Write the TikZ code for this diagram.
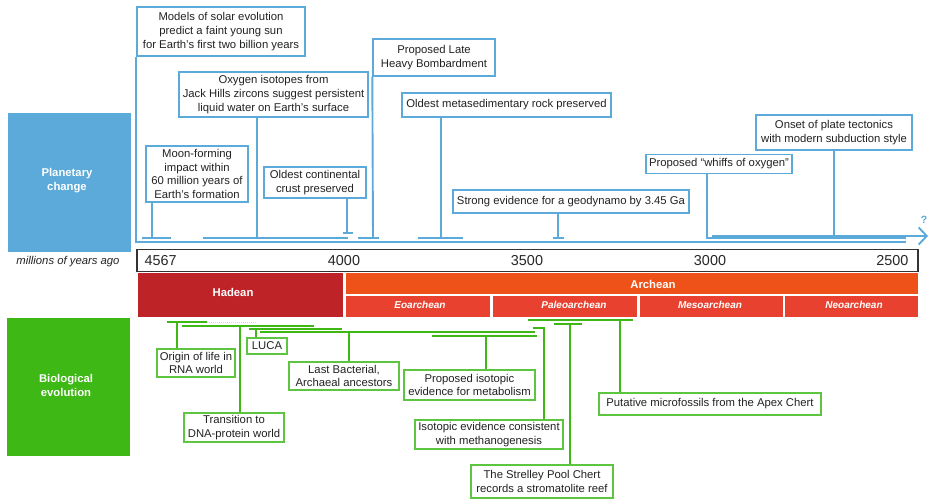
\documentclass[tikz,border=0pt]{standalone}
\usepackage{fontspec}
\setmainfont{Liberation Sans}
\usetikzlibrary{arrows.meta}
\definecolor{planBlue}{HTML}{5BAAD9}
\definecolor{bioGreen}{HTML}{3DB814}
\definecolor{boxGreen}{HTML}{5DC540}
\definecolor{hadRed}{HTML}{BE2327}
\definecolor{archOrange}{HTML}{EE5219}
\definecolor{eraRed}{HTML}{E8412F}
\definecolor{txtGray}{HTML}{222222}

\begin{document}
\begin{tikzpicture}[x=1pt,y=-1pt,
  font=\fontsize{11.3}{13.8}\selectfont, text=txtGray,
  pbox/.style={draw=planBlue, line width=1.4pt, fill=white, align=center, inner sep=1pt},
  bbox/.style={draw=boxGreen, line width=1.4pt, fill=white, align=center, inner sep=1pt},
  pline/.style={draw=planBlue, line width=1.9pt},
  bline/.style={draw=bioGreen, line width=1.9pt},
  side/.style={text=white, font=\fontsize{11.3}{14}\selectfont\bfseries, align=center},
  eonlbl/.style={text=white, font=\fontsize{11.3}{13}\selectfont\bfseries},
  eralbl/.style={text=white, font=\fontsize{10}{11}\selectfont\bfseries\itshape},
  yr/.style={font=\fontsize{14.4}{16}\selectfont, text=black!85}]
\useasboundingbox (0,0) rectangle (930,499);
% side labels
\fill[planBlue] (8,113) rectangle (131,252);
\node[side] (plan) at (67,181) {Planetary\\change};
\node[font=\fontsize{11.3}{13}\selectfont\itshape] (mya) at (68,262) {millions of years ago};
\fill[bioGreen] (7,318) rectangle (130,456);
\node[side] (bio) at (66,385.5) {Biological\\evolution};
% time axis
\draw[line width=1.5pt, black!80] (137,249.5) rectangle (918,271.5);
\node[yr, anchor=west] (y4567) at (141,261) {4567};
\node[yr] (y4000) at (344,261) {4000};
\node[yr] (y3500) at (527,261) {3500};
\node[yr] (y3000) at (710,261) {3000};
\node[yr, anchor=east] (y2500) at (912,261) {2500};
% eons and eras
\fill[hadRed] (138,273) rectangle (343,317);
\node[eonlbl] (hadean) at (233,292) {Hadean};
\fill[archOrange] (346,273) rectangle (918,294);
\node[eonlbl] (archean) at (653,284) {Archean};
\foreach \a/\b/\c/\n in {346/490/420/Eoarchean, 493/637/574/Paleoarchean,
  640/783/710/Mesoarchean, 785/918/854/Neoarchean}{
  \fill[eraRed] (\a,296) rectangle (\b,317);
  \node[eralbl] (era-\n) at (\c,305) {\n};
}
% planetary events
\node[pbox, minimum width=168pt, minimum height=49pt] (models) at (221,31.5)
  {Models of solar evolution\\predict a faint young sun\\for Earth’s first two billion years};
\node[pbox, minimum width=189pt, minimum height=45pt] (oxy) at (273.5,94.5)
  {Oxygen isotopes from\\Jack Hills zircons suggest persistent\\liquid water on Earth’s surface};
\node[pbox, minimum width=102pt, minimum height=56pt] (moon) at (197,174)
  {Moon-forming\\impact within\\60 million years of\\Earth’s formation};
\node[pbox, minimum width=102pt, minimum height=31pt] (crust) at (315,182.5)
  {Oldest continental\\crust preserved};
\node[pbox, minimum width=122pt, minimum height=37pt] (lhb) at (434,57.5)
  {Proposed Late\\Heavy Bombardment};
\node[pbox, minimum width=209pt, minimum height=24pt] (metased) at (506.5,105)
  {Oldest metasedimentary rock preserved};
\node[pbox, minimum width=236pt, minimum height=23pt] (geo) at (571,201.5)
  {Strong evidence for a geodynamo by 3.45 Ga};
\node[pbox, minimum width=146pt, minimum height=19pt] (whiffs) at (719,164)
  {Proposed “whiffs of oxygen”};
\node[pbox, minimum width=156pt, minimum height=35pt] (plate) at (834,132.5)
  {Onset of plate tectonics\\with modern subduction style};
\coordinate (pEnd) at (906,242);
\draw[pline] (models.south west) |- (pEnd);
\coordinate (moonT) at (152,238);
\draw[pline] (moon.south -| moonT) -- (moonT);
\draw[pline] ([xshift=-10pt]moonT) -- ([xshift=19pt]moonT);
\coordinate (oxyT) at (257,238);
\draw[pline] (oxy.south -| oxyT) -- (oxyT);
\draw[pline] ([xshift=-54pt]oxyT) -- ([xshift=91pt]oxyT);
\coordinate (crustT) at (347,233);
\draw[pline] (crust.south -| crustT) -- (crustT);
\draw[pline] ([xshift=-4.5pt]crustT) -- ([xshift=5.5pt]crustT);
\coordinate (lhbT) at (373,238);
\draw[pline] (lhb.south west) -- (lhbT);
\draw[pline] ([xshift=-15pt]lhbT) -- ([xshift=6pt]lhbT);
\coordinate (metT) at (441,238);
\draw[pline] (metased.south -| metT) -- (metT);
\draw[pline] ([xshift=-23pt]metT) -- ([xshift=22pt]metT);
\coordinate (geoT) at (558,238);
\draw[pline] (geo.south -| geoT) -- (geoT);
\draw[pline] ([xshift=-5pt]geoT) -- ([xshift=6pt]geoT);
\coordinate (whT) at (707,238);
\coordinate (whEnd) at (906,238);
\draw[pline] (whiffs.south -| whT) -- (whT) -- (whEnd);
\coordinate (plT) at (834,236);
\coordinate (plS) at (712,236);
\coordinate (plE) at (928,236);
\draw[pline] (plate.south) -- (plT);
\draw[pline, -{Straight Barb[length=8pt, width=17pt]}] (plS) -- (plE);
\node[text=planBlue, font=\fontsize{10.5}{11}\selectfont\bfseries] (unk) at (924,220) {?};
% biological events
\node[bbox, minimum width=78pt, minimum height=28pt] (origin) at (196,363)
  {Origin of life in\\RNA world};
\node[bbox, minimum width=100pt, minimum height=29pt] (trans) at (234,427.5)
  {Transition to\\DNA-protein world};
\node[bbox, minimum width=40pt, minimum height=16pt] (luca) at (267,346) {LUCA};
\node[bbox, minimum width=110pt, minimum height=28pt] (ancest) at (344,376)
  {Last Bacterial,\\Archaeal ancestors};
\node[bbox, minimum width=131pt, minimum height=30pt] (metab) at (469.5,385)
  {Proposed isotopic\\evidence for metabolism};
\node[bbox, minimum width=148pt, minimum height=29pt] (methano) at (489,434.5)
  {Isotopic evidence consistent\\with methanogenesis};
\node[bbox, minimum width=142pt, minimum height=33pt] (strelley) at (542,481.5)
  {The Strelley Pool Chert\\records a stromatolite reef};
\node[bbox, minimum width=222pt, minimum height=22pt] (apex) at (710,404)
  {Putative microfossils from the Apex Chert};
\coordinate (orT) at (177,322);
\draw[bline] ([xshift=-10pt]orT) -- ([xshift=30pt]orT);
\draw[planBlue!40, line width=1pt, densely dotted] ([xshift=30pt]orT) -- ([xshift=79pt]orT);
\draw[bline] (orT) -- (origin.north -| orT);
\coordinate (trT) at (240,326);
\draw[bline] ([xshift=-58pt]trT) -- ([xshift=74pt]trT);
\draw[bline] (trT) -- (trans.north -| trT);
\coordinate (luT) at (256,329);
\draw[bline] ([xshift=-7pt]luT) -- ([xshift=86pt]luT);
\draw[bline] (luT) -- (luca.north -| luT);
\coordinate (anT) at (349,332);
\draw[bline] ([xshift=-89pt]anT) -- ([xshift=186pt]anT);
\draw[bline] (anT) -- (ancest.north -| anT);
\coordinate (mbT) at (486,336);
\draw[bline] ([xshift=-54pt]mbT) -- ([xshift=51pt]mbT);
\draw[bline] (mbT) -- (metab.north -| mbT);
\coordinate (meT) at (544,328);
\draw[bline] ([xshift=-11pt]meT) -- (meT) -- (methano.north -| meT);
\coordinate (stT) at (570,324);
\draw[bline] ([xshift=-16pt]stT) -- ([xshift=12pt]stT);
\draw[bline] (stT) -- (strelley.north -| stT);
\coordinate (apT) at (620,320);
\draw[bline] ([xshift=-92pt]apT) -- ([xshift=13pt]apT);
\draw[bline] (apT) -- (apex.north -| apT);
\end{tikzpicture}
\end{document}
